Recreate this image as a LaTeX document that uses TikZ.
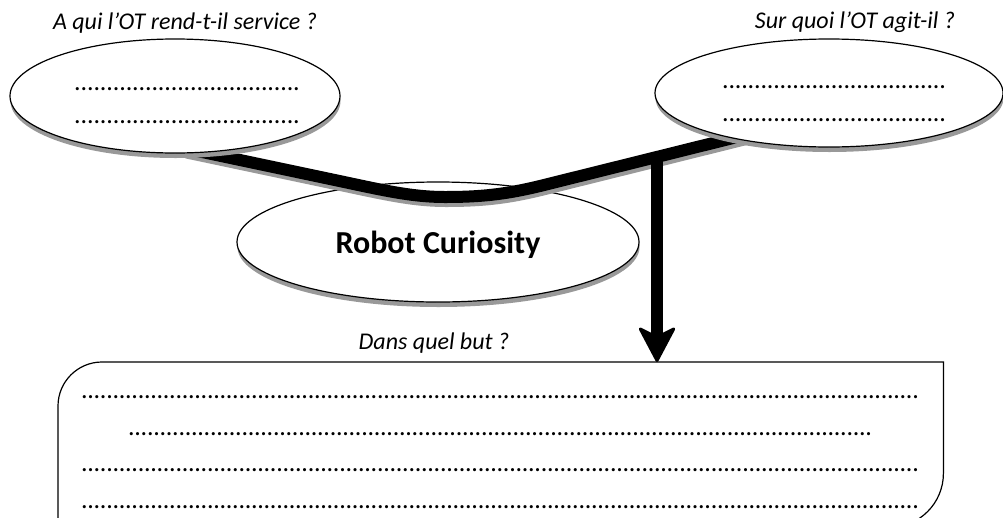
\documentclass[tikz,border=0pt]{standalone}
\usepackage{fontspec}
\setmainfont{Carlito}
\usetikzlibrary{shapes.geometric,arrows.meta,shadows,calc}
\pgfdeclarelayer{bottom}
\pgfdeclarelayer{mid}
\pgfsetlayers{bottom,mid,main}
\newcommand\dotrow[1]{\hbox to #1{\xleaders\hbox to 6.3pt{\hss.\hss}\hfill}}
\begin{document}
\begin{tikzpicture}[x=1pt,y=-1pt,
  bubble/.style={ellipse, draw=black, line width=1.2pt, fill=white, inner sep=0pt,
     drop shadow={shadow xshift=0.5pt, shadow yshift=-5pt, fill=black!40, opacity=1}},
  lab/.style={font=\fontsize{24}{28}\selectfont\itshape, inner sep=0pt, anchor=base},
  dots/.style={font=\fontsize{26}{30}\selectfont, inner sep=0pt, anchor=west},
  horn/.style={line width=12pt, draw=black},
  hornshadow/.style={line width=12pt, draw=black!40},
  goalarrow/.style={line width=12pt, draw=black,
     -{Stealth[length=38pt,width=40pt,inset=10pt,round,line width=3pt]}},
  frame/.style={line width=1.2pt, draw=black}]
\begin{pgfonlayer}{bottom}
  \fill[white] (0,0) rectangle (1003,517);
  \node[bubble, minimum width=402pt, minimum height=120pt, text height=30pt, text depth=8pt,
        font=\fontsize{32}{38}\selectfont\bfseries] (ot) at (438,242) {Robot Curiosity};
\end{pgfonlayer}
\useasboundingbox (0,0) rectangle (1003,517);

% outer ellipses
\node[bubble, minimum width=330pt, minimum height=114pt] (who) at (175,96) {};
\node[bubble, minimum width=348pt, minimum height=108pt] (what) at (829,93) {};

\node[dots] (w1) at (74,89) {\dotrow{226pt}};
\node[dots] (w2) at (74,122) {\dotrow{226pt}};
\node[dots] (a1) at (722,87) {\dotrow{224pt}};
\node[dots] (a2) at (722,120) {\dotrow{224pt}};

% questions
\node[lab] (q1) at (185,29) {A qui l’OT rend-t-il service ?};
\node[lab] (q2) at (855,28) {Sur quoi l’OT agit-il ?};
\node[lab] (q3) at (434,349) {Dans quel but ?};

% goal box
\node[draw=none, minimum width=885pt, minimum height=165pt, inner sep=0pt,
      anchor=north west] (goal) at (58,362) {};
\draw[frame] (goal.south west) -- ([yshift=-44pt]goal.north west)
   arc[start angle=180, end angle=90, radius=44pt] -- (goal.north east)
   -- ([yshift=54pt]goal.south east)
   arc[start angle=0, end angle=-90, radius=54pt] -- cycle;
\node[dots] (g1) at (81,397) {\dotrow{839pt}};
\node[dots] (g2) at (128,434) {\dotrow{745pt}};
\node[dots] (g3) at (81,470) {\dotrow{839pt}};
\node[dots] (g4) at (81,507) {\dotrow{839pt}};

% horns and arrow
\coordinate (k1) at (330,179);
\coordinate (k2) at (445,197);
\coordinate (k3) at (540,186);
\coordinate (hs) at ($(who.-62)!-20pt!(k1)$);
\coordinate (he) at ($(what.205.6)!-20pt!(k3)$);
\coordinate (junc) at (657,158);
\coordinate (goaltop) at (junc |- goal.north);
\begin{pgfonlayer}{mid}
  \draw[hornshadow, transform canvas={shift={(1pt,-4pt)}}]
     (hs) -- (k1) .. controls (380,189.5) and (410,197) .. (k2)
     .. controls (480,197) and (505,194.5) .. (k3) -- (he);
  \draw[horn]
     (hs) -- (k1) .. controls (380,189.5) and (410,197) .. (k2)
     .. controls (480,197) and (505,194.5) .. (k3) -- (he);
  \draw[goalarrow] (junc) -- (goaltop);
\end{pgfonlayer}
\end{tikzpicture}
\end{document}
